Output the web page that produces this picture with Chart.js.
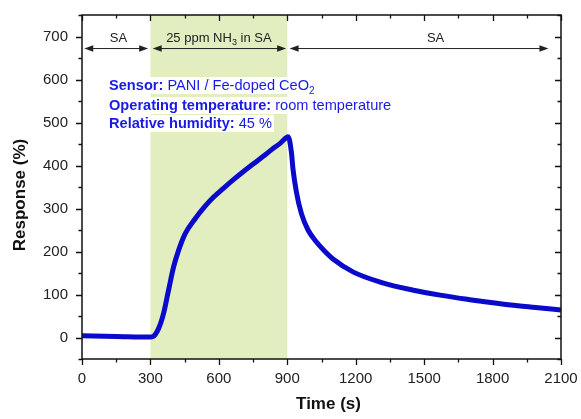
<!DOCTYPE html>
<html>
<head>
<meta charset="utf-8">
<script src="https://cdn.jsdelivr.net/npm/chart.js@4.4.1/dist/chart.umd.min.js"></script>
<style>
  html, body { margin: 0; padding: 0; background: #fff; }
  #wrap { width: 581px; height: 419px; position: relative; }
</style>
</head>
<body>
<div id="wrap"><canvas id="c" width="581" height="419"></canvas></div>
<script>
// ---- Data ----
const times = [0, 150, 300, 311, 335, 357, 379, 401, 423, 452, 496, 536, 576, 620, 664, 708, 752, 796, 839, 870, 904, 918, 925, 940, 962, 991, 1028, 1060, 1102, 1190, 1307, 1453, 1570, 1700, 1775, 1921, 2000, 2100];
const responses = [4, 2.5, 1, 2, 20, 55, 109, 163, 202, 241, 276, 303, 326, 347, 367, 386, 404, 422, 440, 452, 467, 431, 392, 338, 288, 250, 222, 203, 182, 152, 129, 110, 98.5, 88, 82.5, 73, 69, 64];
const xTicks = [0, 300, 600, 900, 1200, 1500, 1800, 2100];
const xMinorTicks = [150, 450, 750, 1050, 1350, 1650, 1950];
const yTicks = [0, 100, 200, 300, 400, 500, 600, 700];
const yMinorTicks = [-50, 50, 150, 250, 350, 450, 550, 650, 750];
const exposureWindow = [300, 900];
const phaseLabels = [
  { from: 10, to: 290, at: 160, parts: [{ t: 'SA' }] },
  { from: 310, to: 895, at: 600, parts: [{ t: '25 ppm NH' }, { t: '3', sub: true }, { t: ' in SA' }] },
  { from: 910, to: 2045, at: 1550, parts: [{ t: 'SA' }] }
];
const infoLines = [
  [{ t: 'Sensor: ', b: true }, { t: 'PANI / Fe-doped CeO' }, { t: '2', sub: true }],
  [{ t: 'Operating temperature: ', b: true }, { t: 'room temperature' }],
  [{ t: 'Relative humidity: ', b: true }, { t: '45 %' }]
];
const xTitle = 'Time (s)';
const yTitle = 'Response (%)';

// ---- Styling ----
const FONT = '"Liberation Sans", Arial, sans-serif';
const BAND = 'rgb(226,238,192)';
const LINE = '#0a0acc';
const INFO = '#1a1ae6';

function richWidth(ctx, parts, size) {
  let w = 0;
  for (const p of parts) {
    const s = p.sub ? Math.round(size * 0.7) : size;
    ctx.font = (p.b ? 'bold ' : '') + s + 'px ' + FONT;
    w += ctx.measureText(p.t).width;
  }
  return w;
}
function drawRich(ctx, parts, x, y, size, color) {
  let cx = x;
  ctx.fillStyle = color;
  ctx.textBaseline = 'alphabetic';
  ctx.textAlign = 'left';
  for (const p of parts) {
    const s = p.sub ? Math.round(size * 0.7) : size;
    ctx.font = (p.b ? 'bold ' : '') + s + 'px ' + FONT;
    ctx.fillText(p.t, cx, y + (p.sub ? size * 0.3 : 0));
    cx += ctx.measureText(p.t).width;
  }
}
function arrowHead(ctx, x, y, dir) {
  ctx.beginPath();
  ctx.moveTo(x, y);
  ctx.lineTo(x - dir * 9, y - 3.2);
  ctx.lineTo(x - dir * 9, y + 3.2);
  ctx.closePath();
  ctx.fill();
}

const decor = {
  id: 'decor',
  beforeDatasetsDraw(chart) {
    const { ctx, chartArea: a, scales: { x, y } } = chart;
    ctx.save();
    const x0 = x.getPixelForValue(exposureWindow[0]);
    const x1 = x.getPixelForValue(exposureWindow[1]);
    ctx.fillStyle = BAND;
    ctx.fillRect(x0, a.top, x1 - x0, a.bottom - a.top);
    const ay = y.getPixelForValue(672);
    const ly = y.getPixelForValue(700);
    ctx.strokeStyle = '#222';
    ctx.fillStyle = '#222';
    ctx.lineWidth = 1;
    for (const ph of phaseLabels) {
      const p0 = x.getPixelForValue(ph.from), p1 = x.getPixelForValue(ph.to);
      ctx.beginPath();
      ctx.moveTo(p0 + 4, ay); ctx.lineTo(p1 - 4, ay); ctx.stroke();
      arrowHead(ctx, p0, ay, -1);
      arrowHead(ctx, p1, ay, 1);
      const w = richWidth(ctx, ph.parts, 13);
      drawRich(ctx, ph.parts, x.getPixelForValue(ph.at) - w / 2, ly + 5, 13, '#222');
    }
    const baselines = [90, 110, 128];
    const tx = 109;
    const fs = 14.6;
    infoLines.forEach((parts, i) => {
      const w = richWidth(ctx, parts, fs);
      ctx.fillStyle = '#fff';
      ctx.fillRect(tx - 2, baselines[i] - 13, w + 4, 17);
    });
    infoLines.forEach((parts, i) => drawRich(ctx, parts, tx, baselines[i], fs, INFO));
    ctx.restore();
  },
  afterDraw(chart) {
    const { ctx, chartArea: a, scales: { x, y } } = chart;
    ctx.save();
    ctx.strokeStyle = '#111';
    ctx.lineWidth = 1.5;
    ctx.strokeRect(a.left, a.top, a.right - a.left, a.bottom - a.top);
    ctx.lineWidth = 1.3;
    ctx.beginPath();
    const tick = (vals, len) => {
      for (const v of vals) {
        const px = Math.round(x.getPixelForValue(v)) + 0.5;
        if (px >= a.left - 1 && px <= a.right + 1) {
          ctx.moveTo(px, a.bottom); ctx.lineTo(px, a.bottom + len);
          ctx.moveTo(px, a.top); ctx.lineTo(px, a.top + len);
        }
      }
    };
    const ytick = (vals, len) => {
      for (const v of vals) {
        const py = Math.round(y.getPixelForValue(v)) + 0.5;
        if (py >= a.top - 1 && py <= a.bottom + 1) {
          ctx.moveTo(a.left, py); ctx.lineTo(a.left - len, py);
          ctx.moveTo(a.right, py); ctx.lineTo(a.right - len, py);
        }
      }
    };
    tick(xTicks, 6); tick(xMinorTicks, 3.5);
    ytick(yTicks, 6); ytick(yMinorTicks, 3.5);
    ctx.stroke();
    ctx.fillStyle = '#111';
    ctx.font = 'bold 17px ' + FONT;
    ctx.textAlign = 'center';
    ctx.textBaseline = 'middle';
    ctx.fillText(xTitle, (a.left + a.right) / 2 + 7, 404);
    ctx.translate(20, (a.top + a.bottom) / 2 + 8);
    ctx.rotate(-Math.PI / 2);
    ctx.fillText(yTitle, 0, 0);
    ctx.restore();
  }
};

new Chart(document.getElementById('c'), {
  type: 'scatter',
  data: {
    datasets: [{
      data: times.map((t, i) => ({ x: t, y: responses[i] })),
      showLine: true,
      borderColor: LINE,
      borderWidth: 5,
      pointRadius: 0,
      cubicInterpolationMode: 'monotone',
      fill: false
    }]
  },
  options: {
    responsive: false,
    animation: false,
    devicePixelRatio: 1,
    layout: { padding: { left: 0, right: 20, top: 15, bottom: 0 } },
    plugins: { legend: { display: false }, tooltip: { enabled: false } },
    scales: {
      x: {
        type: 'linear', min: 0, max: 2100,
        afterBuildTicks: s => { s.ticks = xTicks.map(v => ({ value: v })); },
        afterFit: s => { s.height = 60; s.paddingLeft = 0; s.paddingRight = 0; },
        grid: { display: false, drawTicks: false },
        border: { display: false },
        ticks: { padding: 11, color: '#222', font: { family: FONT, size: 15 }, maxRotation: 0, autoSkip: false, callback: v => String(v) }
      },
      y: {
        type: 'linear', min: -50, max: 750,
        afterBuildTicks: s => { s.ticks = yTicks.map(v => ({ value: v })); },
        afterFit: s => { s.width = 82; s.paddingTop = 0; s.paddingBottom = 0; },
        grid: { display: false, drawTicks: false },
        border: { display: false },
        ticks: { padding: 14, color: '#222', font: { family: FONT, size: 15 }, autoSkip: false, callback: v => String(v) }
      }
    }
  },
  plugins: [decor]
});
</script>
</body>
</html>
